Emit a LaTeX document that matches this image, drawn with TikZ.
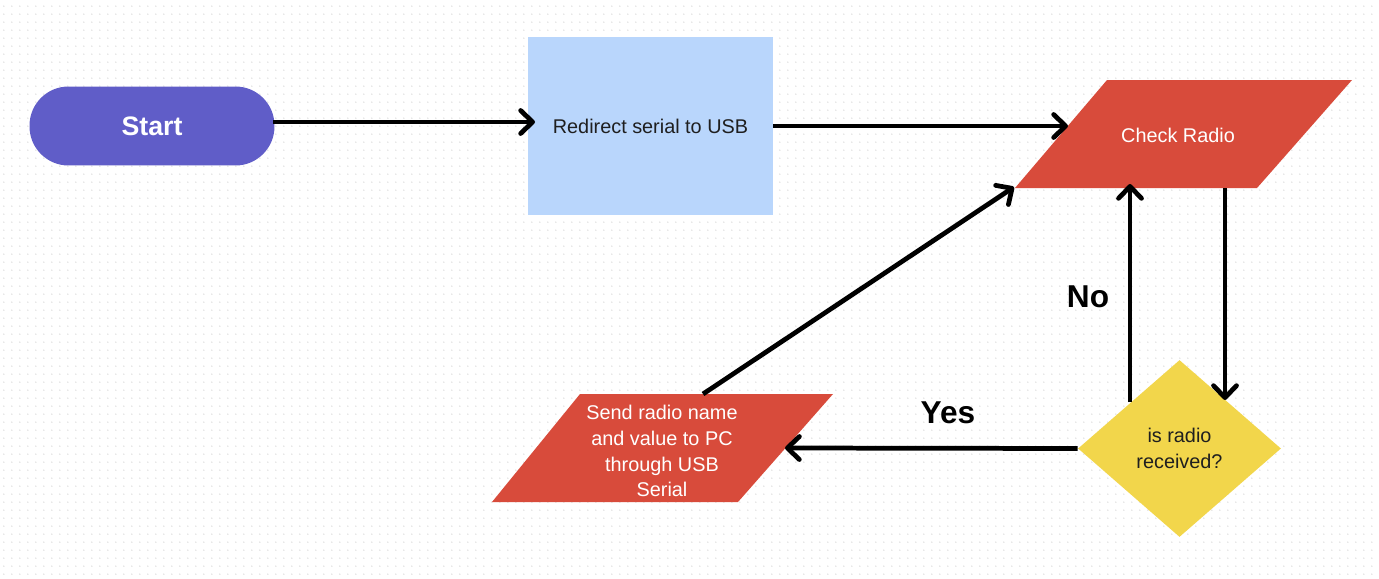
\documentclass[tikz,border=0pt]{standalone}
\usepackage{fontspec}
\setmainfont{Liberation Sans}
\usetikzlibrary{arrows.meta,shapes.geometric,patterns}
\definecolor{startc}{HTML}{605DC8}
\definecolor{bluec}{HTML}{B9D6FC}
\definecolor{redc}{HTML}{D84B3B}
\definecolor{yelc}{HTML}{F2D64B}
\definecolor{txtc}{HTML}{1F1F1F}
\pgfdeclarepatternformonly{griddots}{\pgfpointorigin}{\pgfqpoint{4.42pt}{4.42pt}}{\pgfqpoint{4.42pt}{4.42pt}}{\pgfpathcircle{\pgfqpoint{2.21pt}{2.21pt}}{0.45pt}\pgfusepath{fill}}
\begin{document}
\begin{tikzpicture}[x=0.02cm,y=-0.02cm,
  conn/.style={line width=2.7pt,-{Straight Barb[length=2.4mm,width=4.6mm,round]}},
  bodytext/.style={font=\fontsize{11.3}{14.7}\selectfont},
  startbox/.style={fill=startc,rounded corners=0.78cm,minimum width=4.9cm,minimum height=1.58cm,inner sep=0pt,text=white,font=\fontsize{15.2}{18}\selectfont\bfseries},
  bluebox/.style={fill=bluec,minimum width=4.9cm,minimum height=3.56cm,inner sep=0pt,text=txtc,bodytext},
  redshape/.style={fill=redc},
  redtext/.style={text=white,align=center,bodytext},
  decbox/.style={diamond,fill=yelc,minimum width=4.06cm,minimum height=3.54cm,aspect=1.147,inner sep=0pt,text=txtc,align=center,bodytext},
  lbl/.style={font=\fontsize{18}{21}\selectfont\bfseries,text=black}]
\useasboundingbox (0,0) rectangle (1379,578);
\fill[white] (0,0) rectangle (1379,578);
\fill[pattern=griddots,pattern color=black!12] (0,0) rectangle (1379,578);

% shapes
\node[startbox] (start) at (152,126) {Start};
\node[bluebox] (redirect) at (650.5,126) {Redirect serial to USB};
\fill[redshape] (1107,80) -- (1352,80) -- (1257,188) -- (1015,188) -- cycle;
\node[redtext] (check) at (1178,135) {Check Radio};
\fill[redshape] (580,394) -- (833,394) -- (738,502) -- (492,502) -- cycle;
\node[redtext] (send) at (662,451) {Send radio name\\and value to PC\\through USB\\Serial};
\node[decbox] (dec) at (1179.5,448.5) {is radio\\received?};

% connector end points on the shapes
\coordinate (startout) at (273,122);
\coordinate (redirin) at (535,122);
\coordinate (checkin) at (1068,126);
\coordinate (checkout) at (1225,188);
\coordinate (decin) at (1225,400);
\coordinate (decout) at (1130,402);
\coordinate (checkback) at (1130,184);
\coordinate (sendin) at (785,448);
\coordinate (sendout) at (703,394);
\coordinate (checkin2) at (1014,187);

% connectors
\draw[conn] (startout) -- (redirin);
\draw[conn] (redirect.east) -- (checkin);
\draw[conn] (checkout) -- (decin);
\draw[conn] (decout) -- (checkback);
\draw[conn] (dec.west) -- (sendin);
\draw[conn] (sendout) -- (checkin2);

% labels
\node[lbl] (no) at (1088,297) {No};
\node[lbl] (yes) at (948,413) {Yes};
\end{tikzpicture}
\end{document}
